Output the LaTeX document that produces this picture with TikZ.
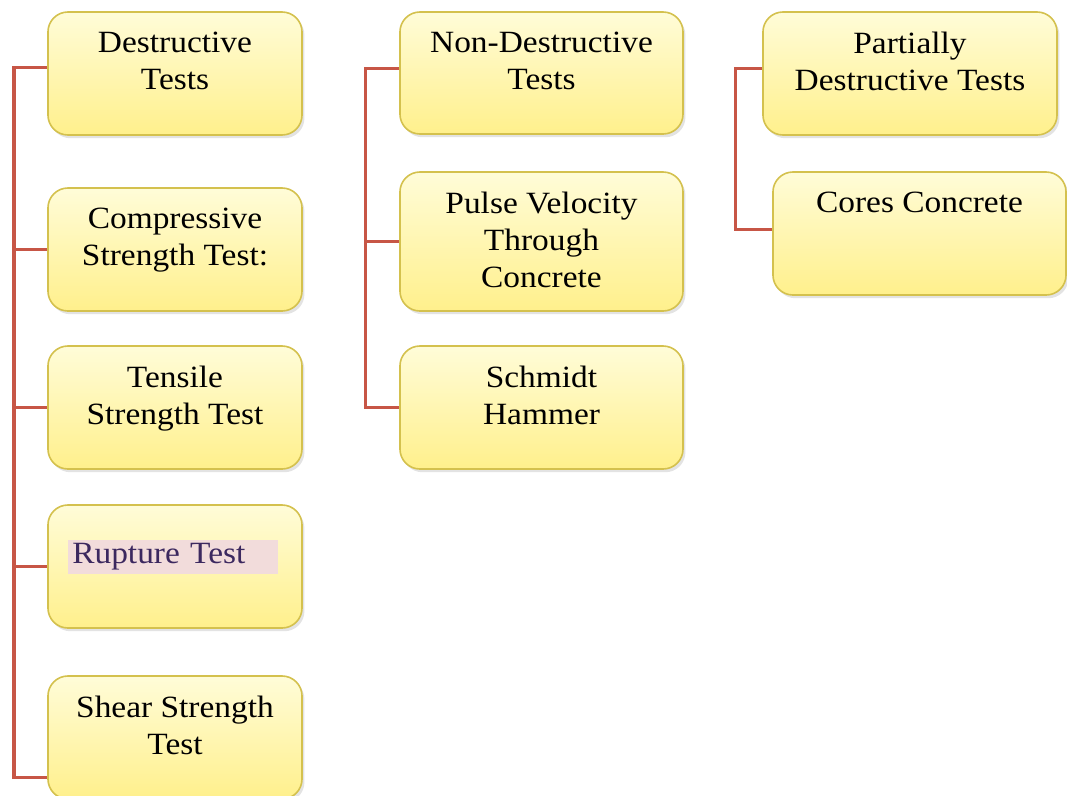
\documentclass[tikz,border=0pt]{standalone}
\usepackage{fontspec}
\setmainfont[FakeStretch=1.08]{Liberation Serif}
\usetikzlibrary{calc,positioning,shadows}

\definecolor{boxline}{RGB}{212,193,78}
\definecolor{boxtop}{RGB}{255,252,216}
\definecolor{boxbot}{RGB}{255,240,140}
\definecolor{twigred}{RGB}{199,86,70}
\definecolor{hilite}{RGB}{242,220,219}
\definecolor{ruptext}{RGB}{60,40,95}

\tikzset{
  tbox/.style={draw=boxline, line width=0.04cm, rounded corners=0.5cm,
    top color=boxtop, bottom color=boxbot, inner sep=0pt,
    drop shadow={shadow xshift=0.06cm, shadow yshift=-0.08cm, opacity=0.22}},
  ttext/.style={align=center, inner sep=0pt, font=\fontsize{22}{26.3}\selectfont},
  twig/.style={draw=twigred, line width=0.075cm},
}

\begin{document}
\begin{tikzpicture}[x=0.025cm, y=-0.025cm]
		%%%%% START %%%%%
		\path[use as bounding box, fill=white] (0, 0) rectangle (1067, 796);
		
		% destructive column
		\node[tbox, minimum width=6.35cm, minimum height=3.075cm] (dt) at (175, 73.5) {};
		\node[ttext, below=0.525cm of dt.north] (dtt) {Destructive\\Tests};
		\node[tbox, minimum width=6.35cm, minimum height=3.075cm] (cs) at (175, 249.5) {};
		\node[ttext, below=0.525cm of cs.north] (cst) {Compressive\\Strength Test:};
		\node[tbox, minimum width=6.35cm, minimum height=3.075cm] (ts) at (175, 407.5) {};
		\node[ttext, below=0.525cm of ts.north] (tst) {Tensile\\Strength Test};
		\node[tbox, minimum width=6.35cm, minimum height=3.075cm] (ru) at (175, 566.5) {};
		\node[ttext, anchor=west, fill=hilite, text=ruptext, align=left,
		  text width=5.05cm, minimum height=0.85cm, inner sep=0.1cm] (rut) at (68, 557) {Rupture Test};
		\node[tbox, minimum width=6.35cm, minimum height=3.075cm] (sh) at (175, 737.5) {};
		\node[ttext, below=0.525cm of sh.north] (sht) {Shear Strength\\Test};
		
		% non-destructive column
		\node[tbox, minimum width=7.075cm, minimum height=3.05cm] (nd) at (541.5, 73) {};
		\node[ttext, below=0.525cm of nd.north] (ndt) {Non-Destructive\\Tests};
		\node[tbox, minimum width=7.075cm, minimum height=3.475cm] (pv) at (541.5, 241.5) {};
		\node[ttext, below=0.525cm of pv.north] (pvt) {Pulse Velocity\\Through\\Concrete};
		\node[tbox, minimum width=7.075cm, minimum height=3.075cm] (sc) at (541.5, 407.5) {};
		\node[ttext, below=0.525cm of sc.north] (sct) {Schmidt\\Hammer};
		
		% partially destructive column
		\node[tbox, minimum width=7.35cm, minimum height=3.075cm] (pd) at (910, 73.5) {};
		\node[ttext, below=0.525cm of pd.north] (pdt) {Partially\\Destructive Tests};
		\node[tbox, minimum width=7.325cm, minimum height=3.075cm] (cc) at (919.5, 233.5) {};
		\node[ttext, below=0.525cm of cc.north] (cct) {Cores Concrete};
		
		% trunks and branches
		\coordinate (tA) at (14, 0);
		\coordinate (tB) at (365, 0);
		\coordinate (tC) at (735, 0);
		\coordinate (dtb) at ($(dt.west)+(0, -6)$);
		\coordinate (ndb) at ($(nd.west)+(0, -5)$);
		\coordinate (pdb) at ($(pd.west)+(0, -5)$);
		\coordinate (ccb) at ($(cc.west)+(0, -4)$);
		\coordinate (shb) at ($(sh.south west)+(0, -22)$);
		
		\draw[twig] (dtb) -- (tA |- dtb) -- (tA |- shb) -- (shb);
		\foreach \b in {cs, ts, ru}
			\draw[twig] (tA |- \b.west) -- (\b.west);
		
		\draw[twig] (ndb) -- (tB |- ndb) -- (tB |- sc.west) -- (sc.west);
		\draw[twig] (tB |- pv.west) -- (pv.west);
		
		\draw[twig] (pdb) -- (tC |- pdb) -- (tC |- ccb) -- (ccb);
		%%%%% END %%%%%
	\end{tikzpicture}
\end{document}
